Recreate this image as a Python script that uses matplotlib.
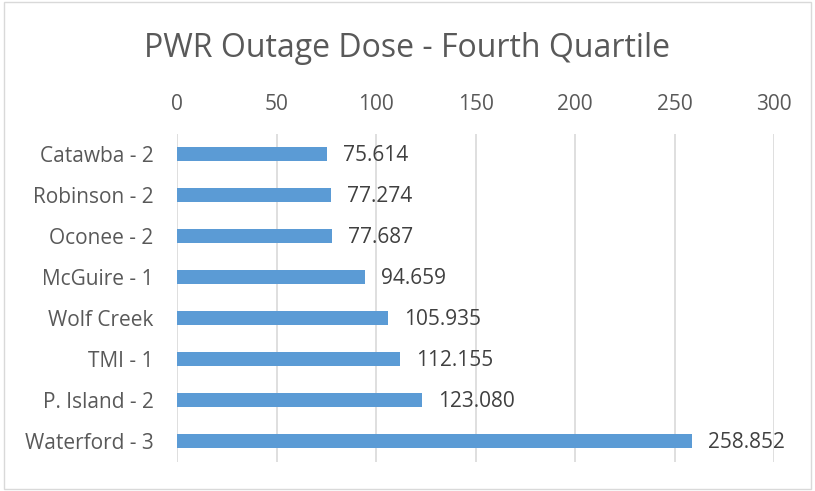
import matplotlib.pyplot as plt
from matplotlib.patches import Rectangle

# Data:
plants = ['Catawba - 2', 'Robinson - 2', 'Oconee - 2', 'McGuire - 1',
          'Wolf Creek', 'TMI - 1', 'P. Island - 2', 'Waterford - 3']
dose = [75.614, 77.274, 77.687, 94.659, 105.935, 112.155, 123.080, 258.852]
x_ticks = [0, 50, 100, 150, 200, 250, 300]

# Figure parameters:
text_color = '#595959'
label_color = '#404040'
bar_color = '#5B9BD5'
grid_color = '#D9D9D9'
plt.rcParams['font.family'] = ['Open Sans', 'DejaVu Sans']

fig = plt.figure(figsize=(8.15, 4.91), dpi=100)
ax = fig.add_axes([0.2172, 0.060, 0.7325, 0.668])

y_pos = list(range(len(plants)))
ax.barh(y_pos, dose, height=0.34, color=bar_color, zorder=3)
for y, v in zip(y_pos, dose):
    ax.text(v + 8, y + 0.04, f'{v:.3f}', va='center', ha='left',
            fontsize=15, color=label_color)

ax.set_xlim(0, 300)
ax.set_ylim(len(plants) - 0.5, -0.5)
ax.set_yticks(y_pos)
ax.set_yticklabels(plants)
ax.set_xticks(x_ticks)
ax.xaxis.tick_top()
ax.tick_params(axis='both', length=0, labelsize=15, colors=text_color)
ax.tick_params(axis='x', pad=13)
ax.tick_params(axis='y', pad=17)
ax.grid(axis='x', color=grid_color, linewidth=1.2, zorder=0)
for side in ['top', 'right', 'bottom', 'left']:
    ax.spines[side].set_visible(False)

fig.text(0.5, 0.884, 'PWR Outage Dose - Fourth Quartile', ha='center',
         va='baseline', fontsize=23, color=text_color)

# Chart border:
fig.patches.append(Rectangle((4 / 815, 2 / 491), 807 / 815, 487 / 491,
                             transform=fig.transFigure, fill=False,
                             edgecolor=grid_color, linewidth=1))

fig.savefig('out.png', dpi=100)
